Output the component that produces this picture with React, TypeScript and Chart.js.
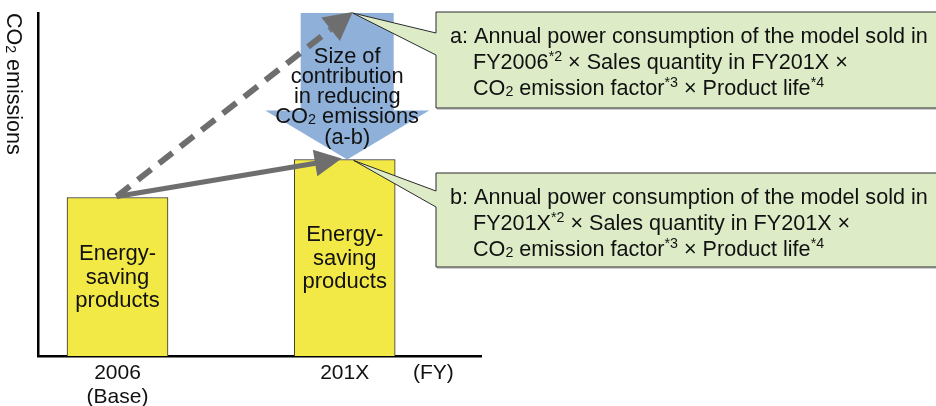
import React, { useEffect, useRef } from "react";
import { Chart, registerables } from "chart.js";

Chart.register(...registerables);

// ---------- data ----------
const CATEGORIES = ["2006", "201X"];
const CATEGORY_SUBLABELS = ["(Base)", ""];
const UNIT_LABEL = "(FY)";
const X_POSITIONS = [1, 4];
const UNIT_POSITION = 5.17;
// CO2 emissions: base year products, products in 201X (b)
const EMISSIONS = [46.2, 57.3];
// emissions if 201X sales used FY2006 models (a)
const EMISSIONS_A = 100;
const Y_MAX = 100;

const BAR_TEXT = ["Energy-", "saving", "products"];

type Seg = { t: string; k?: "sup" | "sub" };

const Y_TITLE: Seg[] = [{ t: "CO" }, { t: "2", k: "sub" }, { t: " emissions" }];

const ARROW_TEXT: Seg[][] = [
  [{ t: "Size of" }],
  [{ t: "contribution" }],
  [{ t: "in reducing" }],
  [{ t: "CO" }, { t: "2", k: "sub" }, { t: " emissions" }],
  [{ t: "(a-b)" }],
];

const CALLOUT_A: Seg[][] = [
  [{ t: "a: Annual power consumption of the model sold in" }],
  [{ t: "FY2006" }, { t: "*2", k: "sup" }, { t: " × Sales quantity in FY201X ×" }],
  [
    { t: "CO" },
    { t: "2", k: "sub" },
    { t: " emission factor" },
    { t: "*3", k: "sup" },
    { t: " × Product life" },
    { t: "*4", k: "sup" },
  ],
];

const CALLOUT_B: Seg[][] = [
  [{ t: "b: Annual power consumption of the model sold in" }],
  [{ t: "FY201X" }, { t: "*2", k: "sup" }, { t: " × Sales quantity in FY201X ×" }],
  [
    { t: "CO" },
    { t: "2", k: "sub" },
    { t: " emission factor" },
    { t: "*3", k: "sup" },
    { t: " × Product life" },
    { t: "*4", k: "sup" },
  ],
];

const TICK_LABELS: (string | string[])[] = [
  [CATEGORIES[0], CATEGORY_SUBLABELS[0]],
  CATEGORIES[1],
  UNIT_LABEL,
];

// ---------- styles ----------
const FONT = '"Liberation Sans", Arial, Helvetica, sans-serif';
const TEXT_COLOR = "#111111";
const BAR_COLOR = "#F3E946";
const BLUE = "#8FB0D8";
const GRAY = "#6E6E6E";
const GREEN = "#DDEBC7";

function segFont(size: number, k?: string) {
  const s = k ? size * 0.66 : size;
  return `${s}px ${FONT}`;
}

function measureRich(ctx: CanvasRenderingContext2D, segs: Seg[], size: number) {
  let w = 0;
  for (const s of segs) {
    ctx.font = segFont(size, s.k);
    w += ctx.measureText(s.t).width;
  }
  return w;
}

function drawRich(
  ctx: CanvasRenderingContext2D,
  segs: Seg[],
  x: number,
  yc: number,
  size: number,
  align: "left" | "center" = "left"
) {
  let cx = align === "center" ? x - measureRich(ctx, segs, size) / 2 : x;
  const base = yc + size * 0.36;
  ctx.textAlign = "left";
  ctx.textBaseline = "alphabetic";
  ctx.fillStyle = TEXT_COLOR;
  for (const s of segs) {
    ctx.font = segFont(size, s.k);
    const dy = s.k === "sup" ? -size * 0.38 : s.k === "sub" ? size * 0.04 : 0;
    ctx.fillText(s.t, cx, base + dy);
    cx += ctx.measureText(s.t).width;
  }
}

function arrowHead(
  ctx: CanvasRenderingContext2D,
  x1: number,
  y1: number,
  x2: number,
  y2: number,
  len: number,
  half: number
) {
  const a = Math.atan2(y2 - y1, x2 - x1);
  const bx = x2 - len * Math.cos(a);
  const by = y2 - len * Math.sin(a);
  const nx = -Math.sin(a) * half;
  const ny = Math.cos(a) * half;
  ctx.beginPath();
  ctx.moveTo(x2, y2);
  ctx.lineTo(bx + nx, by + ny);
  ctx.lineTo(bx - nx, by - ny);
  ctx.closePath();
  ctx.fill();
  return { bx, by };
}

function callout(
  ctx: CanvasRenderingContext2D,
  left: number,
  top: number,
  bottom: number,
  p1: number,
  p2: number,
  tipX: number,
  tipY: number,
  lines: Seg[][],
  size: number
) {
  ctx.save();
  ctx.beginPath();
  ctx.moveTo(left, top);
  ctx.lineTo(940, top);
  ctx.lineTo(940, bottom);
  ctx.lineTo(left, bottom);
  ctx.lineTo(left, p2);
  ctx.lineTo(tipX, tipY);
  ctx.lineTo(left, p1);
  ctx.closePath();
  ctx.fillStyle = GREEN;
  ctx.fill();
  ctx.strokeStyle = "#2a2a2a";
  ctx.lineWidth = 1;
  ctx.stroke();
  // faint shadow along bottom edge
  ctx.beginPath();
  ctx.strokeStyle = "rgba(90,90,90,0.6)";
  ctx.moveTo(left + 1, bottom + 1);
  ctx.lineTo(940, bottom + 1);
  ctx.stroke();
  lines.forEach((segs, i) => {
    drawRich(ctx, segs, i === 0 ? left + 14 : left + 37, top + 23.5 + i * 25.8, size);
  });
  ctx.restore();
}

const overlay = {
  id: "overlay",
  afterDatasetsDraw(chart: any) {
    const ctx: CanvasRenderingContext2D = chart.ctx;
    const xs = chart.scales.x;
    const ys = chart.scales.y;
    const meta = chart.getDatasetMeta(0);
    const area = chart.chartArea;

    const x0 = xs.getPixelForValue(X_POSITIONS[0]);
    const cx = xs.getPixelForValue(X_POSITIONS[1]);
    const yBase = ys.getPixelForValue(EMISSIONS[0]);
    const yB = ys.getPixelForValue(EMISSIONS[1]);
    const yA = ys.getPixelForValue(EMISSIONS_A);

    ctx.save();

    // bar labels
    meta.data.forEach((bar: any) => {
      const mid = (bar.y + bar.base) / 2 - 1;
      BAR_TEXT.forEach((t, i) => {
        drawRich(ctx, [{ t }], bar.x, mid + (i - 1) * 23.5, 22, "center");
      });
    });

    // blue reduction arrow
    const ax = cx + 2.5;
    const shaft = 46.5;
    const head = 82;
    const headLen = 49;
    ctx.beginPath();
    ctx.moveTo(ax - shaft, yA);
    ctx.lineTo(ax + shaft, yA);
    ctx.lineTo(ax + shaft, yB - headLen);
    ctx.lineTo(ax + head, yB - headLen);
    ctx.lineTo(ax, yB);
    ctx.lineTo(ax - head, yB - headLen);
    ctx.lineTo(ax - shaft, yB - headLen);
    ctx.closePath();
    ctx.fillStyle = BLUE;
    ctx.fill();

    ARROW_TEXT.forEach((segs, i) => {
      drawRich(ctx, segs, ax, yA + 42 + i * 20.2, 21.8, "center");
    });

    // dashed arrow (to a)
    ctx.fillStyle = GRAY;
    ctx.strokeStyle = GRAY;
    const sx = x0 - 1;
    const sy = yBase - 1;
    const dTipX = cx + 8;
    const dTipY = yA - 1;
    const dh = arrowHead(ctx, sx, sy, dTipX, dTipY, 28, 15);
    ctx.beginPath();
    ctx.setLineDash([17, 10]);
    ctx.lineWidth = 6;
    ctx.moveTo(sx, sy);
    ctx.lineTo(dh.bx, dh.by);
    ctx.stroke();
    ctx.setLineDash([]);

    // solid arrow (to b)
    const sTipX = cx - 3;
    const sTipY = yB - 1;
    const shh = arrowHead(ctx, sx, sy, sTipX, sTipY, 27, 13.5);
    ctx.beginPath();
    ctx.lineWidth = 5;
    ctx.moveTo(sx, sy);
    ctx.lineTo(shh.bx + 2, shh.by);
    ctx.stroke();

    // callouts
    callout(ctx, 436, 12, 108, 33, 55, cx + 8, yA, CALLOUT_A, 21.6);
    callout(ctx, 436, 173, 267, 191, 207, cx + 9, yB + 1, CALLOUT_B, 21.6);

    // y axis title (reads top to bottom)
    ctx.save();
    ctx.translate(15, area.top);
    ctx.rotate(Math.PI / 2);
    drawRich(ctx, Y_TITLE, 0, 0, 21.5, "left");
    ctx.restore();

    ctx.restore();
  },
};

export default function App() {
  const ref = useRef<HTMLCanvasElement>(null);
  useEffect(() => {
    document.body.style.margin = "0";
    const canvas = ref.current!;
    const chart = new Chart(canvas, {
      type: "bar",
      data: {
        datasets: [
          {
            data: X_POSITIONS.map((x, i) => ({ x, y: EMISSIONS[i] })) as any,
            backgroundColor: BAR_COLOR,
            borderColor: "#2b2b2b",
            borderWidth: 1,
            borderSkipped: "bottom",
            barThickness: 101,
          },
        ],
      },
      options: {
        animation: false,
        responsive: false,
        devicePixelRatio: 1,
        layout: { padding: { top: 13, right: 455, left: 0, bottom: 0 } },
        plugins: { legend: { display: false }, tooltip: { enabled: false } },
        scales: {
          x: {
            type: "linear",
            offset: false,
            min: -0.05,
            max: 5.8,
            grid: { display: false, drawTicks: false, offset: false },
            border: { display: true, color: "#000", width: 2.5 },
            afterBuildTicks: (scale: any) => {
              scale.ticks = [...X_POSITIONS, UNIT_POSITION].map((v) => ({ value: v }));
            },
            afterFit: (scale: any) => {
              scale.height = 50;
            },
            ticks: {
              autoSkip: false,
              maxRotation: 0,
              minRotation: 0,
              padding: 5,
              color: TEXT_COLOR,
              font: { family: FONT, size: 21, lineHeight: 1.15 },
              callback: (_v: any, i: number) => TICK_LABELS[i],
            },
          },
          y: {
            min: 0,
            max: Y_MAX,
            grid: { display: false, drawTicks: false },
            border: { display: true, color: "#000", width: 2.5 },
            ticks: { display: false },
            afterFit: (scale: any) => {
              scale.width = 38;
            },
          },
        },
      } as any,
      plugins: [overlay],
    });
    return () => chart.destroy();
  }, []);
  return (
    <div style={{ width: 936, height: 406, position: "relative" }}>
      <canvas ref={ref} width={936} height={406} style={{ display: "block", width: 936, height: 406 }} />
    </div>
  );
}
